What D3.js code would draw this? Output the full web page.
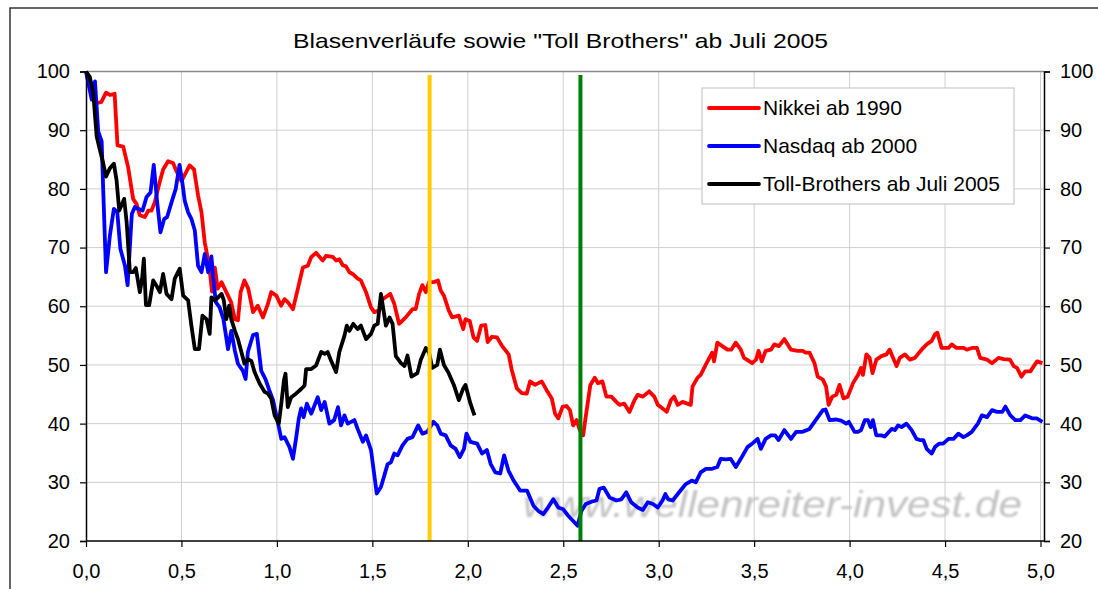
<!DOCTYPE html>
<html>
<head>
<meta charset="utf-8">
<script src="https://cdn.jsdelivr.net/npm/d3@7"></script>
<style>
  body { margin: 0; background: #fff; }
  svg { display: block; font-family: "Liberation Sans", Arial, sans-serif; }
</style>
</head>
<body>
<script>
// Values: [years after the peak, index (peak = 100)]
const nikkei = [
  [0,100],[0.056,94.6],[0.08,94.8],[0.105,96.4],[0.125,96],[0.15,96.2],[0.165,87.4],[0.195,87.2],[0.22,83.8],
  [0.247,78.3],[0.265,77.4],[0.282,75.5],[0.308,75.2],[0.326,76.3],[0.343,76.3],[0.36,77.7],[0.383,80.8],
  [0.404,83.3],[0.43,84.7],[0.456,84.4],[0.474,83],[0.5,81.3],[0.517,82.4],[0.543,84],[0.566,83.3],
  [0.587,78.9],[0.605,76],[0.622,70.9],[0.645,67],[0.66,62.5],[0.675,66.6],[0.69,63],[0.71,64.1],
  [0.735,62.4],[0.76,60.7],[0.78,57.8],[0.796,57.6],[0.81,62.4],[0.83,64.4],[0.85,63],[0.875,59],
  [0.9,60.1],[0.927,58.1],[0.953,60.4],[0.97,62.4],[0.997,61.8],[1.022,60.1],[1.04,61.2],[1.057,60.7],
  [1.084,59.5],[1.11,63],[1.136,66.6],[1.162,66.9],[1.18,68.4],[1.205,69.1],[1.24,67.8],[1.258,68.6],
  [1.293,68.4],[1.31,67.8],[1.327,68],[1.345,67],[1.362,66.8],[1.38,65.8],[1.397,65.5],[1.423,64.7],
  [1.44,64.4],[1.467,62.4],[1.493,59.8],[1.51,59],[1.537,59.3],[1.554,61.2],[1.594,62.1],[1.615,60.4],
  [1.64,57],[1.675,58.1],[1.71,59.5],[1.727,59.5],[1.745,62.1],[1.762,63.6],[1.78,62.4],[1.797,64.1],
  [1.82,64.1],[1.844,64.4],[1.858,62.7],[1.875,61.8],[1.9,59.3],[1.918,58.1],[1.953,58.4],[1.976,56.1],
  [1.988,57.8],[2.01,57.5],[2.03,54.7],[2.049,54.1],[2.07,56.7],[2.092,56.8],[2.104,53.9],[2.127,54.8],
  [2.153,54.7],[2.18,53.2],[2.214,51.8],[2.23,49.2],[2.257,46],[2.283,45.2],[2.309,45.1],[2.326,47.2],
  [2.352,46.6],[2.387,47.2],[2.413,45.7],[2.44,44.3],[2.457,41.7],[2.474,40.9],[2.497,42.9],[2.517,43],
  [2.535,42.3],[2.552,39.7],[2.57,40.6],[2.587,38.9],[2.604,38],[2.62,41.7],[2.642,46.6],[2.665,47.8],
  [2.682,46.9],[2.705,47.2],[2.726,44.6],[2.752,44.6],[2.778,43.7],[2.795,43.2],[2.82,43.4],[2.847,42],
  [2.873,44],[2.89,44.9],[2.917,44.6],[2.95,45.5],[2.977,44.6],[2.995,43.2],[3.02,42.6],[3.042,42],
  [3.064,44],[3.08,44.6],[3.1,43.2],[3.125,43.7],[3.168,43.2],[3.177,46.3],[3.203,47.8],[3.22,48.3],
  [3.246,50],[3.28,52.1],[3.29,50.6],[3.307,53.8],[3.333,53.2],[3.36,52.6],[3.38,52.6],[3.404,53.8],
  [3.43,52.6],[3.447,51.2],[3.49,50.3],[3.51,50.9],[3.523,52.4],[3.54,50.6],[3.56,52.4],[3.588,52.6],
  [3.605,53.5],[3.63,53.2],[3.658,54.4],[3.693,52.6],[3.728,52.4],[3.754,52.4],[3.77,52.1],[3.79,52.1],
  [3.816,50.3],[3.833,48],[3.86,47.5],[3.877,46.3],[3.89,43.2],[3.909,44.6],[3.93,44.9],[3.947,46.6],
  [3.968,44.3],[3.99,44.6],[4.018,46.9],[4.044,48.3],[4.06,49.5],[4.07,48.3],[4.088,51.8],[4.105,51.2],
  [4.12,48.6],[4.14,50.9],[4.167,51.5],[4.193,51.8],[4.21,52.6],[4.246,49.8],[4.263,51.2],[4.29,51.8],
  [4.316,50.9],[4.342,51.2],[4.377,52.6],[4.404,53.5],[4.43,54.1],[4.447,55.2],[4.46,55.5],[4.482,52.9],
  [4.518,52.9],[4.535,53.5],[4.56,52.9],[4.597,52.9],[4.614,52.6],[4.64,52.9],[4.667,52.9],[4.684,51.2],
  [4.72,50.9],[4.746,50.3],[4.78,51.2],[4.807,51],[4.84,50.9],[4.86,49.8],[4.877,49.5],[4.9,48],
  [4.92,48.9],[4.947,48.9],[4.965,49.8],[4.982,50.6],[5.01,50.3]
];

const nasdaq = [
  [0,100],[0.03,95.2],[0.047,98.3],[0.064,89.8],[0.082,88.1],[0.09,80],[0.105,65.8],[0.125,72],[0.146,76.6],
  [0.164,76],[0.18,69.8],[0.204,66.9],[0.218,63.6],[0.24,75.7],[0.256,76.9],[0.273,76.6],[0.296,76.3],
  [0.317,78.6],[0.338,79.4],[0.355,84.1],[0.372,78],[0.39,72.6],[0.41,74.9],[0.425,75.2],[0.448,77.7],
  [0.47,80],[0.49,84.1],[0.505,81],[0.517,78],[0.535,76],[0.552,74.9],[0.57,72.9],[0.587,66.9],
  [0.605,65.8],[0.622,68.9],[0.64,65.8],[0.657,68.5],[0.666,64.9],[0.68,60.7],[0.7,59.8],[0.72,57.8],
  [0.744,52.7],[0.761,55.8],[0.78,52.4],[0.796,50.2],[0.822,49],[0.836,47.6],[0.848,52.2],[0.875,55.1],
  [0.895,55.3],[0.918,49],[0.94,47.6],[0.96,45.7],[0.98,44],[1.01,39.4],[1.023,37.4],[1.04,37.7],
  [1.066,36],[1.084,34],[1.1,37.4],[1.115,40.9],[1.127,42.6],[1.14,41.1],[1.157,43.4],[1.18,41.7],
  [1.214,44.5],[1.232,42.3],[1.25,43.7],[1.275,40],[1.3,40.6],[1.32,42.8],[1.336,39.7],[1.354,41.4],
  [1.371,40],[1.406,40.6],[1.423,39.1],[1.45,36.9],[1.467,38],[1.493,35.5],[1.523,28.1],[1.545,29.2],
  [1.58,33.1],[1.597,33.4],[1.615,34.9],[1.632,34.6],[1.658,36.3],[1.684,37.4],[1.71,37.7],[1.74,39.7],
  [1.762,38.3],[1.788,38.6],[1.82,40.3],[1.84,39.7],[1.858,38.3],[1.884,38],[1.91,36.3],[1.936,35.7],
  [1.958,34.3],[1.98,35.7],[1.993,38.3],[2.014,36.9],[2.049,36.6],[2.075,34.9],[2.1,35.5],[2.12,33.1],
  [2.144,31.7],[2.17,31.5],[2.19,34.6],[2.213,32],[2.24,30.3],[2.274,28.6],[2.31,28.6],[2.344,26],
  [2.37,25.1],[2.396,24.6],[2.42,25.7],[2.448,27.1],[2.474,25.7],[2.5,25.4],[2.526,24.3],[2.552,23.4],
  [2.575,22.6],[2.595,25.1],[2.618,26.3],[2.648,26.7],[2.674,26.9],[2.69,28.9],[2.712,29.1],[2.743,27.4],
  [2.778,26.9],[2.804,27.1],[2.83,28.3],[2.856,26.6],[2.89,25.7],[2.917,25.3],[2.943,26.6],[2.97,26.3],
  [2.995,25.7],[3.02,26.9],[3.035,28],[3.05,27.1],[3.073,26.9],[3.107,28.3],[3.142,29.7],[3.173,30.3],
  [3.194,30],[3.22,31.7],[3.247,32.3],[3.28,32.3],[3.307,32.6],[3.325,34],[3.35,33.9],[3.377,34],
  [3.404,32.6],[3.43,34],[3.465,36],[3.49,36.6],[3.518,37.4],[3.535,35.7],[3.56,37.4],[3.588,38],
  [3.61,38],[3.628,37.2],[3.658,38.9],[3.693,37.4],[3.72,38.6],[3.754,38.6],[3.79,39.1],[3.816,40.3],
  [3.86,42.3],[3.874,42.4],[3.895,40.6],[3.93,40.7],[3.956,40.5],[3.982,40],[3.996,40.3],[4.026,38.6],
  [4.044,38.6],[4.06,38.9],[4.08,40.6],[4.096,40.6],[4.11,39.4],[4.122,40.6],[4.14,38],[4.167,38],
  [4.184,37.8],[4.22,39.1],[4.237,38.9],[4.254,39.7],[4.272,39.4],[4.298,40],[4.325,38.9],[4.35,37.4],
  [4.368,37.2],[4.386,37.2],[4.404,35.7],[4.43,34.9],[4.447,36],[4.47,36.6],[4.49,36.6],[4.518,37.4],
  [4.544,37.4],[4.57,38.3],[4.596,37.7],[4.614,38],[4.64,38.6],[4.658,39.4],[4.672,40],[4.693,41.4],
  [4.72,41.1],[4.746,42.3],[4.772,42],[4.8,42],[4.816,42.9],[4.842,41.4],[4.868,40.6],[4.895,40.6],
  [4.92,41.4],[4.956,40.9],[4.98,40.9],[5.01,40.3]
];

const tollBrothers = [
  [0,100],[0.02,99.1],[0.038,96.3],[0.056,88.9],[0.073,86.6],[0.09,84.4],[0.105,82.1],[0.125,83.5],
  [0.146,84.3],[0.16,81.5],[0.174,76.3],[0.186,77.2],[0.2,78.3],[0.213,74.3],[0.23,65.8],[0.247,65.8],
  [0.261,66.5],[0.282,62.4],[0.294,64.7],[0.303,68.1],[0.314,60.2],[0.331,60.2],[0.352,64.4],[0.369,63.5],
  [0.387,62.4],[0.404,65.5],[0.422,62.1],[0.448,61.2],[0.465,64.7],[0.491,66.4],[0.509,61.8],[0.535,61],
  [0.552,56.7],[0.57,52.7],[0.592,52.7],[0.61,58.4],[0.631,57.8],[0.648,55.3],[0.657,61.5],[0.674,61],
  [0.692,61.5],[0.71,62.1],[0.722,61],[0.735,57.8],[0.75,60.1],[0.761,57.8],[0.78,55.8],[0.796,54.4],
  [0.814,52.2],[0.83,50.2],[0.848,51],[0.866,50.7],[0.883,48.8],[0.91,46.8],[0.936,45.4],[0.953,45.1],
  [0.97,44.3],[0.988,41.4],[1.01,40],[1.023,43.4],[1.037,47.4],[1.045,48.5],[1.057,42.8],[1.075,44.5],
  [1.1,45.1],[1.127,45.9],[1.145,46.5],[1.153,49.3],[1.18,49.3],[1.205,49.9],[1.232,52.2],[1.25,51.9],
  [1.266,52.2],[1.284,50.7],[1.31,48.8],[1.327,52.2],[1.354,55],[1.366,56.7],[1.38,55.8],[1.4,57],
  [1.423,56.1],[1.44,56.7],[1.467,54.4],[1.493,55.3],[1.51,56.7],[1.528,57],[1.545,62.1],[1.563,58.4],
  [1.571,56.7],[1.59,58.1],[1.606,57],[1.623,51.5],[1.65,50.3],[1.668,49.8],[1.684,51.6],[1.705,48],
  [1.736,48.6],[1.754,50.9],[1.78,52.9],[1.797,52.1],[1.814,49.5],[1.84,50],[1.854,52.6],[1.875,50],
  [1.9,48.6],[1.927,46.6],[1.953,44],[1.976,46],[1.988,46.6],[2.014,43.4],[2.035,41.4]
];

const seriesNames = ['Nikkei ab 1990', 'Nasdaq ab 2000', 'Toll-Brothers ab Juli 2005'];
const seriesColors = ['#ff0000', '#0000ff', '#000000'];
const markerYears = [1.8, 2.59];
const markerColors = ['#ffcc00', '#008000'];
const xTicks = [0, 0.5, 1, 1.5, 2, 2.5, 3, 3.5, 4, 4.5, 5];
const yTicks = [20, 30, 40, 50, 60, 70, 80, 90, 100];

const width = 1098;
const height = 589;
const plot = { left: 86, right: 1044, top: 71.5, bottom: 541 };

const xScale = d3.scaleLinear().domain([0, 5]).range([plot.left, 1040.5]);
const yScale = d3.scaleLinear().domain([20, 100]).range([plot.bottom, plot.top]);
const fmt = d => d3.format('.1f')(d).replace('.', ',');

const svg = d3
    .select('body')
    .append('svg')
    .attr('width', width)
    .attr('height', height);

// Soft blur for the watermark
svg
    .append('defs')
    .append('filter')
    .attr('id', 'soft')
    .append('feGaussianBlur')
    .attr('stdDeviation', 0.9);

// Outer frame
svg
    .append('rect')
    .attr('x', 10)
    .attr('y', 8)
    .attr('width', 1200)
    .attr('height', 700)
    .attr('fill', 'none')
    .attr('stroke', '#333')
    .attr('stroke-width', 1.5);

// Title
svg
    .append('text')
    .attr('x', 560.5)
    .attr('y', 48)
    .attr('text-anchor', 'middle')
    .attr('textLength', 535)
    .attr('lengthAdjust', 'spacingAndGlyphs')
    .style('font-size', '21px')
    .text('Blasenverläufe sowie "Toll Brothers" ab Juli 2005');

// Gridlines
svg
    .append('g')
    .selectAll('line')
    .data(yTicks.filter(d => d > 20 && d < 100))
    .join('line')
    .attr('x1', plot.left)
    .attr('x2', plot.right)
    .attr('y1', d => yScale(d))
    .attr('y2', d => yScale(d))
    .attr('stroke', '#cfcfcf')
    .attr('stroke-width', 1);

svg
    .append('g')
    .selectAll('line')
    .data(xTicks.filter(d => d > 0))
    .join('line')
    .attr('x1', d => xScale(d))
    .attr('x2', d => xScale(d))
    .attr('y1', plot.top)
    .attr('y2', plot.bottom)
    .attr('stroke', '#cfcfcf')
    .attr('stroke-width', 1);

// Top border of plot area
svg
    .append('line')
    .attr('x1', plot.left)
    .attr('x2', plot.right)
    .attr('y1', plot.top)
    .attr('y2', plot.top)
    .attr('stroke', '#8a8a8a')
    .attr('stroke-width', 1.5);

// Watermark
svg
    .append('text')
    .attr('x', 523)
    .attr('y', 517)
    .attr('textLength', 499)
    .attr('lengthAdjust', 'spacingAndGlyphs')
    .attr('filter', 'url(#soft)')
    .style('font-size', '36px')
    .style('font-style', 'italic')
    .attr('fill', '#c2c2c2')
    .text('www.wellenreiter-invest.de');

// Series lines
const line = d3
    .line()
    .x(d => xScale(d[0]))
    .y(d => yScale(d[1]));

svg
    .append('g')
    .selectAll('path')
    .data([nikkei, nasdaq, tollBrothers])
    .join('path')
    .attr('d', line)
    .attr('fill', 'none')
    .attr('stroke', (d, i) => seriesColors[i])
    .attr('stroke-width', 3.8)
    .attr('stroke-linejoin', 'round');

// Vertical marker lines
svg
    .append('g')
    .selectAll('line')
    .data(markerYears)
    .join('line')
    .attr('x1', d => xScale(d))
    .attr('x2', d => xScale(d))
    .attr('y1', 75)
    .attr('y2', plot.bottom)
    .attr('stroke', (d, i) => markerColors[i])
    .attr('stroke-width', 4);

// Set left y-axis
const leftAxis = svg
    .append('g')
    .attr('transform', `translate(${plot.left}, 0)`)
    .call(d3.axisLeft(yScale).tickValues(yTicks).tickSize(6).tickPadding(10));

// Set right y-axis
const rightAxis = svg
    .append('g')
    .attr('transform', `translate(${plot.right}, 0)`)
    .call(d3.axisRight(yScale).tickValues(yTicks).tickSize(6).tickPadding(10));

// Set x-axis
const bottomAxis = svg
    .append('g')
    .attr('transform', `translate(0, ${plot.bottom})`)
    .call(d3.axisBottom(xScale).tickValues(xTicks).tickFormat(fmt).tickSize(6).tickPadding(17));

bottomAxis.select('.domain').attr('d', `M${plot.left},0H${plot.right}`);

[leftAxis, rightAxis, bottomAxis].forEach(axis => {
    axis.select('.domain').attr('stroke', '#000').attr('stroke-width', 1.5);
    axis.selectAll('line').attr('stroke', '#000').attr('stroke-width', 1.2);
    axis
        .selectAll('text')
        .attr('fill', '#000')
        .style('font-size', '20px')
        .style('font-family', '"Liberation Sans", Arial, sans-serif');
});

// Legend
const legend = svg.append('g').attr('transform', 'translate(702, 88)');

legend
    .append('rect')
    .attr('width', 312)
    .attr('height', 116)
    .attr('fill', '#fff')
    .attr('stroke', '#c8c8c8')
    .attr('stroke-width', 1.2);

const items = legend
    .selectAll('g')
    .data(seriesNames)
    .join('g')
    .attr('transform', (d, i) => `translate(0, ${20 + i * 38})`);

items
    .append('line')
    .attr('x1', 7)
    .attr('x2', 57)
    .attr('stroke', (d, i) => seriesColors[i])
    .attr('stroke-width', 3.8)
    .attr('stroke-linecap', 'round');

items
    .append('text')
    .attr('x', 61)
    .attr('y', 7)
    .style('font-size', '21px')
    .text(d => d);
</script>
</body>
</html>
